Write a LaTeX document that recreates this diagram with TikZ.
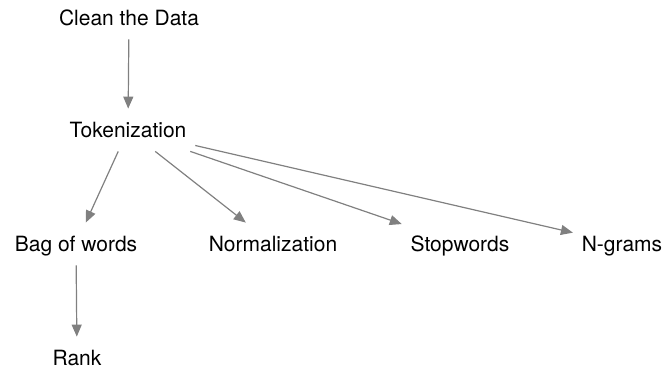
\documentclass[tikz,border=0pt]{standalone}
\usepackage{fontspec}
\setmainfont{TeX Gyre Heros}
\usetikzlibrary{positioning, arrows.meta}
\definecolor{grey128}{RGB}{128,128,128}

\begin{document}
\begin{tikzpicture}[
          x = 0.5pt, y = -0.5pt,
          font = \fontsize{10.5}{12}\selectfont,
          edge/.style = {draw = grey128, line width = 0.6pt, -{Triangle[length=6pt, width=5pt]}}
        ]
          \useasboundingbox (0,0) rectangle (665,369);
          \tikzstyle {stage} = [shape = rectangle, inner xsep = 4.25pt, inner ysep = 0pt,
            minimum height = 21pt, text height = 7.6pt, text depth = 0pt]
          % place nodes
          \path node (0) [stage] at (129,18) {Clean the Data};
          \path node (1) [stage] at (128,130) {Tokenization};
          \path node (2) [stage] at (76,244) {Bag of words};
          \path node (3) [stage] at (273,244) {Normalization};
          \path node (4) [stage] at (460,244) {Stopwords};
          \path node (5) [stage] at (622,244) {N-grams};
          \path node (6) [stage] at (77,358) {Rank};
          % place edges
          \draw [edge] (0) -- (1);
          \foreach \x in {2, 3, 4, 5}
            { \draw [edge] (1) -- (\x) ; } ;
          \draw [edge] (2) -- (6);
        \end{tikzpicture}
\end{document}
